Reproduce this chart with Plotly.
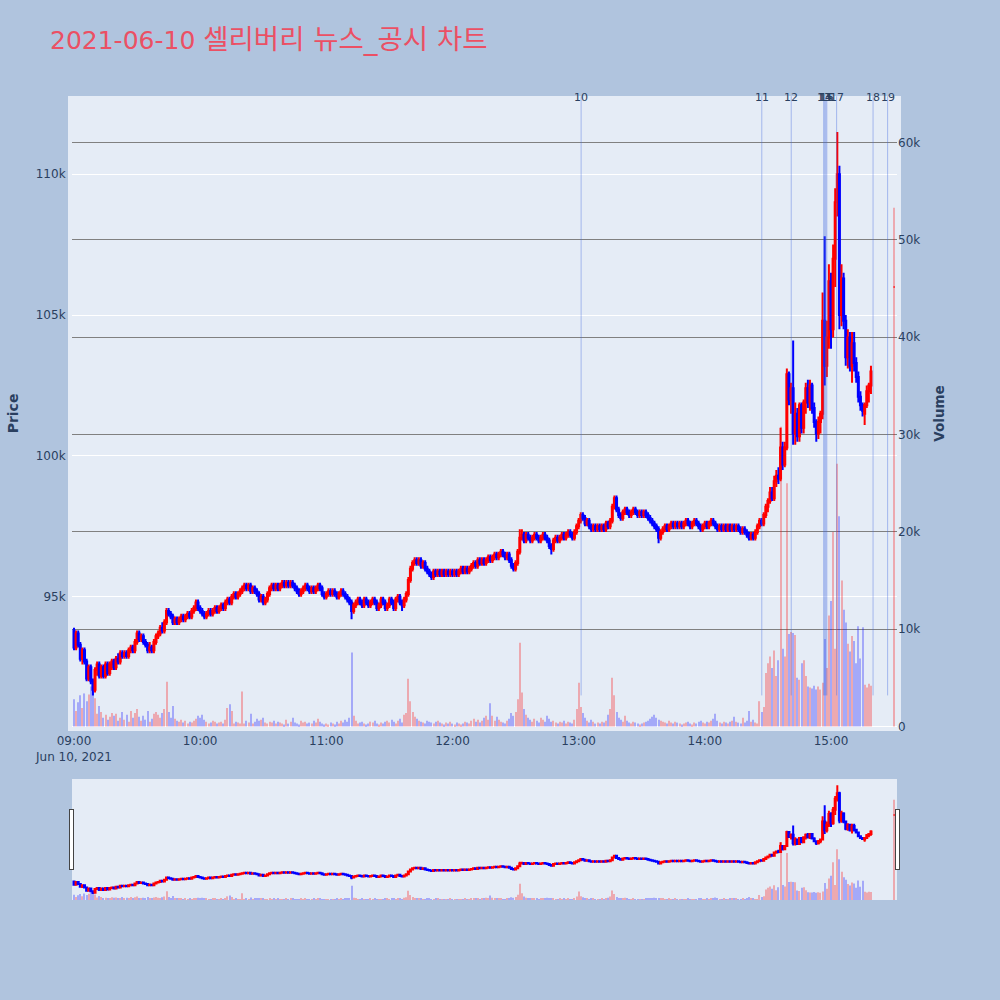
import pandas as pd
import plotly.graph_objects as go
from plotly.subplots import make_subplots

# ---- minute candles 09:00 .. 15:19, plus the 15:30 closing price ----
opens = [
    93800, 93200, 93700, 93300, 92800, 93100, 92700, 92100, 92500, 92000,  # 09:00
    91700, 92400, 92600, 92200, 92500, 92200, 92600, 92300, 92600, 92700,  # 09:10
    92500, 92800, 92700, 93000, 92900, 93000, 92900, 93100, 93200, 93100,  # 09:20
    93400, 93700, 93500, 93600, 93400, 93300, 93100, 93200, 93100, 93400,  # 09:30
    93600, 93700, 93900, 93800, 94100, 94500, 94400, 94300, 94100, 94200,  # 09:40
    94100, 94200, 94300, 94200, 94300, 94400, 94300, 94500, 94600, 94800,  # 09:50
    94600, 94500, 94400, 94300, 94400, 94500, 94400, 94500, 94600, 94500,  # 10:00
    94600, 94700, 94600, 94800, 94900, 94800, 95000, 95100, 95000, 95100,  # 10:10
    95200, 95300, 95400, 95300, 95400, 95200, 95300, 95200, 95100, 94900,  # 10:20
    95000, 94800, 94900, 95100, 95300, 95400, 95300, 95400, 95300, 95400,  # 10:30
    95500, 95400, 95500, 95400, 95500, 95400, 95300, 95200, 95100, 95200,  # 10:40
    95300, 95400, 95300, 95200, 95300, 95200, 95300, 95400, 95300, 95100,  # 10:50
    95000, 95100, 95200, 95100, 95200, 95100, 95000, 95100, 95200, 95100,  # 11:00
    95000, 94900, 94800, 94500, 94700, 94800, 94900, 94800, 94700, 94900,  # 11:10
    94800, 94700, 94800, 94900, 94800, 94600, 94700, 94900, 94800, 94600,  # 11:20
    94700, 94900, 94800, 94600, 94900, 95000, 94800, 94700, 94900, 95100,  # 11:30
    95600, 96000, 96200, 96300, 96200, 96300, 96100, 96200, 96000, 95900,  # 11:40
    95800, 95700, 95900, 95800, 95900, 95800, 95900, 95800, 95900, 95800,  # 11:50
    95900, 95800, 95900, 95800, 95900, 96000, 95900, 96000, 95900, 96000,  # 12:00
    96100, 96200, 96100, 96300, 96200, 96300, 96200, 96300, 96400, 96300,  # 12:10
    96400, 96500, 96400, 96500, 96600, 96500, 96400, 96500, 96300, 96100,  # 12:20
    96000, 96200, 96600, 97100, 97200, 97000, 97200, 97100, 97000, 97100,  # 12:30
    97200, 97100, 97000, 97100, 97200, 97100, 97000, 96800, 96700, 97000,  # 12:40
    97100, 97000, 97100, 97200, 97100, 97200, 97300, 97200, 97100, 97300,  # 12:50
    97500, 97700, 97900, 97800, 97600, 97700, 97500, 97400, 97500, 97400,  # 13:00
    97500, 97400, 97500, 97400, 97600, 97500, 97700, 98200, 98500, 98100,  # 13:10
    97900, 97800, 98000, 98100, 98000, 97900, 98000, 98100, 98000, 97900,  # 13:20
    98000, 97900, 98000, 97900, 97800, 97700, 97600, 97500, 97400, 97100,  # 13:30
    97300, 97400, 97500, 97400, 97500, 97600, 97500, 97600, 97500, 97600,  # 13:40
    97500, 97600, 97700, 97600, 97500, 97600, 97700, 97600, 97500, 97400,  # 13:50
    97500, 97600, 97500, 97600, 97700, 97600, 97500, 97400, 97500, 97400,  # 14:00
    97500, 97400, 97500, 97400, 97500, 97400, 97500, 97400, 97300, 97400,  # 14:10
    97300, 97200, 97100, 97200, 97100, 97300, 97500, 97700, 97600, 97900,  # 14:20
    98200, 98400, 98700, 98500, 99100, 99300, 99200, 100300, 99700, 100300,  # 14:30
    102900, 102000, 102400, 100800, 101500, 100700, 101800, 101000, 101900, 102400,  # 14:40
    101900, 102500, 101700, 101200, 100800, 101200, 101500, 104800, 103200, 104200,  # 14:50
    106200, 104500, 107000, 109000, 110000, 105000, 106300, 104800, 103500, 104200,  # 15:00
    103200, 104000, 103300, 102800, 102100, 101800, 101500, 101800, 102300, 102500,  # 15:10
    106000,  # 15:30
]
highs = [
    93900, 93800, 93800, 93400, 93200, 93200, 92800, 92600, 92600, 92100,
    92500, 92700, 92700, 92600, 92600, 92700, 92700, 92700, 92800, 92800,
    92900, 93000, 93100, 93100, 93100, 93100, 93200, 93300, 93300, 93500,
    93800, 93800, 93700, 93700, 93500, 93400, 93400, 93300, 93500, 93700,
    93800, 94000, 94100, 94200, 94600, 94600, 94500, 94400, 94300, 94300,
    94300, 94400, 94400, 94400, 94500, 94500, 94600, 94700, 94900, 94900,
    94700, 94600, 94500, 94500, 94600, 94600, 94600, 94700, 94700, 94700,
    94800, 94800, 94900, 95000, 95000, 95100, 95200, 95200, 95200, 95300,
    95400, 95500, 95500, 95500, 95500, 95400, 95400, 95300, 95200, 95100,
    95100, 95000, 95200, 95400, 95500, 95500, 95500, 95500, 95500, 95600,
    95600, 95600, 95600, 95600, 95600, 95500, 95400, 95300, 95300, 95400,
    95500, 95500, 95400, 95400, 95400, 95400, 95500, 95500, 95400, 95200,
    95200, 95300, 95300, 95300, 95300, 95200, 95200, 95300, 95300, 95200,
    95100, 95000, 94900, 94800, 94900, 95000, 95000, 94900, 95000, 95000,
    94900, 94900, 95000, 95000, 94900, 94800, 95000, 95000, 94900, 94800,
    95000, 95000, 94900, 95000, 95100, 95100, 94900, 95000, 95200, 95700,
    96100, 96300, 96400, 96400, 96400, 96400, 96300, 96300, 96100, 96000,
    95900, 96000, 96000, 96000, 96000, 96000, 96000, 96000, 96000, 96000,
    96000, 96000, 96000, 96000, 96100, 96100, 96100, 96100, 96100, 96200,
    96300, 96300, 96400, 96400, 96400, 96400, 96400, 96500, 96500, 96500,
    96600, 96600, 96600, 96700, 96700, 96600, 96600, 96600, 96400, 96200,
    96300, 96700, 97400, 97400, 97300, 97300, 97300, 97200, 97200, 97300,
    97300, 97200, 97200, 97300, 97300, 97200, 97100, 96900, 97100, 97200,
    97200, 97200, 97300, 97300, 97300, 97400, 97400, 97300, 97400, 97600,
    97800, 98000, 98000, 97900, 97800, 97800, 97600, 97600, 97600, 97600,
    97600, 97600, 97600, 97700, 97700, 97800, 98300, 98600, 98600, 98200,
    98000, 98100, 98200, 98200, 98100, 98100, 98200, 98200, 98100, 98100,
    98100, 98100, 98100, 98000, 97900, 97800, 97700, 97600, 97500, 97400,
    97500, 97600, 97600, 97600, 97700, 97700, 97700, 97700, 97700, 97700,
    97700, 97800, 97800, 97700, 97700, 97800, 97800, 97700, 97600, 97600,
    97700, 97700, 97700, 97800, 97800, 97700, 97600, 97600, 97600, 97600,
    97600, 97600, 97600, 97600, 97600, 97600, 97600, 97500, 97500, 97500,
    97400, 97300, 97300, 97300, 97400, 97600, 97800, 97800, 98000, 98300,
    98500, 98900, 98900, 99300, 99500, 99600, 101000, 100500, 100500, 103100,
    103000, 102600, 104100, 101900, 101700, 101900, 101900, 102000, 102600, 102700,
    102700, 102600, 101900, 101300, 101400, 101600, 105800, 107800, 104800, 106800,
    106500, 107500, 109500, 111500, 110300, 106800, 106500, 105000, 104500, 104400,
    104400, 104400, 103500, 103000, 102300, 101900, 101900, 102500, 102600, 103200,
    106000,
]
lows = [
    93100, 93100, 93200, 92700, 92600, 92600, 92000, 92000, 91900, 91500,
    91600, 92200, 92100, 92100, 92100, 92100, 92200, 92200, 92400, 92400,
    92400, 92600, 92600, 92800, 92800, 92800, 92800, 93000, 93000, 93000,
    93300, 93400, 93400, 93300, 93200, 93000, 93000, 93000, 93000, 93300,
    93500, 93600, 93700, 93700, 94000, 94300, 94200, 94000, 94000, 94000,
    94000, 94100, 94100, 94100, 94200, 94200, 94200, 94400, 94500, 94500,
    94400, 94300, 94200, 94200, 94300, 94300, 94300, 94400, 94400, 94400,
    94500, 94500, 94500, 94700, 94700, 94700, 94900, 94900, 94900, 95000,
    95100, 95200, 95200, 95200, 95100, 95100, 95100, 95000, 94800, 94800,
    94700, 94700, 94800, 95000, 95200, 95200, 95200, 95200, 95200, 95300,
    95300, 95300, 95300, 95300, 95300, 95200, 95100, 95000, 95000, 95100,
    95200, 95200, 95100, 95100, 95100, 95100, 95200, 95200, 95000, 94900,
    94900, 95000, 95000, 95000, 95000, 94900, 94900, 95000, 95000, 94900,
    94800, 94700, 94200, 94400, 94600, 94700, 94700, 94600, 94600, 94700,
    94600, 94600, 94700, 94700, 94500, 94500, 94600, 94700, 94500, 94500,
    94600, 94700, 94500, 94500, 94800, 94700, 94500, 94600, 94800, 95000,
    95500, 95900, 96100, 96100, 96100, 96000, 96000, 95900, 95800, 95700,
    95600, 95600, 95700, 95700, 95700, 95700, 95700, 95700, 95700, 95700,
    95700, 95700, 95700, 95700, 95800, 95800, 95800, 95800, 95800, 95900,
    96000, 96000, 96000, 96100, 96100, 96100, 96100, 96200, 96200, 96200,
    96300, 96300, 96300, 96400, 96400, 96300, 96300, 96200, 96000, 95900,
    95900, 96100, 96500, 97000, 96900, 96900, 97000, 96900, 96900, 97000,
    97000, 96900, 96900, 97000, 97000, 96900, 96700, 96500, 96600, 96900,
    96900, 96900, 97000, 97000, 97000, 97100, 97100, 97000, 97000, 97200,
    97400, 97600, 97700, 97500, 97500, 97400, 97300, 97300, 97300, 97300,
    97300, 97300, 97300, 97300, 97400, 97400, 97600, 98100, 98000, 97800,
    97700, 97700, 97900, 97900, 97800, 97800, 97900, 97900, 97800, 97800,
    97800, 97800, 97800, 97700, 97600, 97500, 97400, 97300, 96900, 97000,
    97200, 97300, 97300, 97300, 97400, 97400, 97400, 97400, 97400, 97400,
    97400, 97500, 97500, 97400, 97400, 97500, 97500, 97400, 97300, 97300,
    97400, 97400, 97400, 97500, 97500, 97400, 97300, 97300, 97300, 97300,
    97300, 97300, 97300, 97300, 97300, 97300, 97300, 97200, 97200, 97200,
    97100, 97000, 97000, 97000, 97000, 97200, 97400, 97500, 97500, 97800,
    98000, 98300, 98400, 98400, 98900, 99000, 99100, 99500, 99600, 100200,
    101800, 101500, 100400, 100400, 100500, 100500, 100800, 100800, 101500, 101700,
    101600, 101500, 101000, 100500, 100600, 100800, 101300, 102500, 102800, 103800,
    103800, 104200, 106000, 108500, 104500, 104600, 104500, 103200, 103100, 103000,
    102600, 103000, 102600, 101900, 101600, 101400, 101100, 101700, 101900, 102200,
    106000,
]
closes = [
    93200, 93700, 93300, 92800, 93100, 92700, 92100, 92500, 92000, 91700,
    92400, 92600, 92200, 92500, 92200, 92600, 92300, 92600, 92700, 92500,
    92800, 92700, 93000, 92900, 93000, 92900, 93100, 93200, 93100, 93400,
    93700, 93500, 93600, 93400, 93300, 93100, 93200, 93100, 93400, 93600,
    93700, 93900, 93800, 94100, 94500, 94400, 94300, 94100, 94200, 94100,
    94200, 94300, 94200, 94300, 94400, 94300, 94500, 94600, 94800, 94600,
    94500, 94400, 94300, 94400, 94500, 94400, 94500, 94600, 94500, 94600,
    94700, 94600, 94800, 94900, 94800, 95000, 95100, 95000, 95100, 95200,
    95300, 95400, 95300, 95400, 95200, 95300, 95200, 95100, 94900, 95000,
    94800, 94900, 95100, 95300, 95400, 95300, 95400, 95300, 95400, 95500,
    95400, 95500, 95400, 95500, 95400, 95300, 95200, 95100, 95200, 95300,
    95400, 95300, 95200, 95300, 95200, 95300, 95400, 95300, 95100, 95000,
    95100, 95200, 95100, 95200, 95100, 95000, 95100, 95200, 95100, 95000,
    94900, 94800, 94500, 94700, 94800, 94900, 94800, 94700, 94900, 94800,
    94700, 94800, 94900, 94800, 94600, 94700, 94900, 94800, 94600, 94700,
    94900, 94800, 94600, 94900, 95000, 94800, 94700, 94900, 95100, 95600,
    96000, 96200, 96300, 96200, 96300, 96100, 96200, 96000, 95900, 95800,
    95700, 95900, 95800, 95900, 95800, 95900, 95800, 95900, 95800, 95900,
    95800, 95900, 95800, 95900, 96000, 95900, 96000, 95900, 96000, 96100,
    96200, 96100, 96300, 96200, 96300, 96200, 96300, 96400, 96300, 96400,
    96500, 96400, 96500, 96600, 96500, 96400, 96500, 96300, 96100, 96000,
    96200, 96600, 97100, 97200, 97000, 97200, 97100, 97000, 97100, 97200,
    97100, 97000, 97100, 97200, 97100, 97000, 96800, 96700, 97000, 97100,
    97000, 97100, 97200, 97100, 97200, 97300, 97200, 97100, 97300, 97500,
    97700, 97900, 97800, 97600, 97700, 97500, 97400, 97500, 97400, 97500,
    97400, 97500, 97400, 97600, 97500, 97700, 98200, 98500, 98100, 97900,
    97800, 98000, 98100, 98000, 97900, 98000, 98100, 98000, 97900, 98000,
    97900, 98000, 97900, 97800, 97700, 97600, 97500, 97400, 97100, 97300,
    97400, 97500, 97400, 97500, 97600, 97500, 97600, 97500, 97600, 97500,
    97600, 97700, 97600, 97500, 97600, 97700, 97600, 97500, 97400, 97500,
    97600, 97500, 97600, 97700, 97600, 97500, 97400, 97500, 97400, 97500,
    97400, 97500, 97400, 97500, 97400, 97500, 97400, 97300, 97400, 97300,
    97200, 97100, 97200, 97100, 97300, 97500, 97700, 97600, 97900, 98200,
    98400, 98700, 98500, 99100, 99300, 99200, 100300, 99700, 100300, 102900,
    102000, 102400, 100800, 101500, 100700, 101800, 101000, 101900, 102400, 101900,
    102500, 101700, 101200, 100800, 101200, 101500, 104800, 103200, 104200, 106200,
    104500, 107000, 109000, 110000, 105000, 106300, 104800, 103500, 104200, 103200,
    104000, 103300, 102800, 102100, 101800, 101600, 101800, 102300, 102500, 103000,
    106000,
]
volumes = [
    2800, 1600, 2500, 3200, 1900, 3400, 2600, 3300, 4100, 3600,
    2900, 1300, 2100, 1500, 900, 1200, 700, 1000, 1400, 1100,
    1300, 600, 900, 1500, 700, 1200, 500, 1600, 900, 1400,
    1800, 1000, 600, 1100, 700, 1600, 500, 800, 1300, 1500,
    1200, 900, 1400, 1800, 4600, 1500, 900, 2100, 800, 600,
    500, 700, 400, 600, 300, 500, 400, 600, 800, 1100,
    900, 1200, 700, 500, 300, 400, 600, 500, 300, 400,
    500, 300, 700, 1900, 2300, 1600, 300, 500, 400, 300,
    3600, 300, 600, 400, 1300, 300, 500, 800, 600, 700,
    900, 400, 300, 500, 400, 600, 300, 500, 400, 300,
    200, 700, 300, 500, 900, 400, 300, 200, 600, 400,
    500, 300, 400, 300, 600, 400, 800, 500, 300, 200,
    300, 200, 400, 300, 200, 500, 300, 600, 400, 700,
    500, 900, 7600, 1100, 600, 300, 400, 500, 300, 200,
    300, 500, 400, 600, 300, 200, 400, 300, 500, 600,
    400, 700, 500, 300, 600, 800, 400, 1200, 1400, 4900,
    2600, 1500, 1000, 800, 600, 500, 400, 300, 600, 500,
    400, 300, 500, 600, 400, 300, 200, 400, 300, 500,
    300, 200, 400, 300, 200, 300, 500, 400, 300, 600,
    800, 500, 700, 400, 600, 900, 1100, 700, 2400, 1100,
    600, 1000, 700, 500, 400, 300, 600, 800, 1400, 1100,
    1500, 2800, 8600, 3500, 1800, 1200, 900, 700, 500, 800,
    600, 400, 900, 700, 500, 1100, 800, 500, 600, 400,
    300, 500, 400, 600, 300, 500, 400, 300, 700, 1800,
    4500, 2000, 1400, 900, 600, 400, 700, 500, 300, 400,
    300, 500, 400, 600, 1200, 1800, 5000, 3200, 1500, 900,
    700, 500, 1100, 600, 400, 300, 500, 400, 300, 200,
    300, 400, 500, 600, 800, 1000, 1200, 900, 700, 600,
    500, 400, 300, 600, 400, 300, 500, 400, 300, 200,
    300, 400, 500, 300, 200, 400, 300, 500, 600, 400,
    300, 500, 400, 600, 800, 1300, 600, 400, 300, 500,
    400, 300, 500, 600, 1000, 500, 400, 300, 900, 400,
    600, 1600, 500, 700, 400, 300, 2600, 1500, 2000, 5500,
    6500, 7200, 6000, 7800, 5200, 6800, 30800, 8000, 7200, 25000,
    9500, 9700, 9600, 9400, 5000, 4800, 6500, 6800, 5200, 4100,
    4000, 3900, 4200, 3800, 4100, 3800, 4500, 9000, 6000, 11400,
    12900, 20000, 8000, 27000, 21600, 15000, 12000, 10700, 8500, 7700,
    9300, 8800, 6500, 10300, 7000, 10200, 4300, 4000, 4400, 4200,
    53300,
]

times = list(pd.date_range("2021-06-10 09:00", periods=380, freq="1min")) + [pd.Timestamp("2021-06-10 15:30")]

# news / disclosure markers
news_labels = ["10", "11", "12", "13", "14", "15", "16", "17", "18", "19"]
news_times = ["2021-06-10 13:01:10", "2021-06-10 14:27:05", "2021-06-10 14:41:05",
              "2021-06-10 14:56:30", "2021-06-10 14:57:00", "2021-06-10 14:57:30",
              "2021-06-10 14:58:00", "2021-06-10 15:02:40", "2021-06-10 15:20:00",
              "2021-06-10 15:26:55"]

title_date = "2021-06-10"
title_name = "셀리버리 뉴스_공시 차트"

price_range = [90379, 112633]
vol_range = [-50, 64380]

vol_colors = ["red" if c >= o else "blue" for o, c in zip(opens, closes)]

fig = make_subplots(specs=[[{"secondary_y": True}]])
fig.add_trace(go.Candlestick(
    x=times, open=opens, high=highs, low=lows, close=closes, name="Price",
    increasing=dict(line=dict(color="red", width=2), fillcolor="red"),
    decreasing=dict(line=dict(color="blue", width=2), fillcolor="blue"),
    showlegend=False), secondary_y=False)
fig.add_trace(go.Bar(
    x=times, y=volumes, name="Volume", marker=dict(color=vol_colors, line=dict(width=0)),
    opacity=0.28, showlegend=False), secondary_y=True)

y0_frac = (min(lows) - price_range[0]) / (price_range[1] - price_range[0])
for lab, t in zip(news_labels, news_times):
    fig.add_shape(type="line", xref="x", yref="paper", x0=t, x1=t, y0=y0_frac, y1=1.006,
                  line=dict(color="royalblue", width=1), opacity=0.4)
    fig.add_annotation(x=t, xref="x", y=1, yref="paper", yanchor="middle", yshift=3,
                       text=lab, showarrow=False, font=dict(size=11, color="#2a3f5f"))

border = dict(showline=True, linecolor="#E5ECF6", linewidth=4, mirror=True)

fig.update_layout(
    width=1000, height=1000,
    paper_bgcolor="#B0C4DE", plot_bgcolor="#E5ECF6",
    margin=dict(l=72, r=103, t=100, b=100),
    font=dict(family="DejaVu Sans, Noto Sans CJK KR, sans-serif", color="#2a3f5f", size=12),
    title=dict(text=f"{title_date} <span style='font-size:27.5px'>{title_name}</span>",
               x=0.05, xanchor="left", y=0.96, yanchor="middle",
               font=dict(size=25, color="#EB5064")),
    showlegend=False,
    bargap=0.5,
)
fig.update_xaxes(type="date", domain=[0, 1],
                 range=["2021-06-10 08:59:03", "2021-06-10 15:31:23"],
                 showgrid=False, dtick=3600000, tick0="2021-06-10 09:00",
                 rangeslider=dict(visible=True, thickness=0.1512, bgcolor="#E5ECF6"),
                 **border)
fig.update_yaxes(range=price_range, showgrid=True, gridcolor="white", zeroline=False,
                 title=dict(text="Price", font=dict(size=14, weight="bold")),
                 automargin=False, secondary_y=False, **border)
fig.update_yaxes(range=vol_range, showgrid=True, gridcolor="gray", zeroline=True,
                 zerolinecolor="white", dtick=10000,
                 title=dict(text="Volume", font=dict(size=13.5, weight="bold")),
                 automargin=False, secondary_y=True)

fig.write_html("out.html", config={"displayModeBar": False},
               post_script="document.body.style.margin='0px';document.body.style.overflow='hidden';")
